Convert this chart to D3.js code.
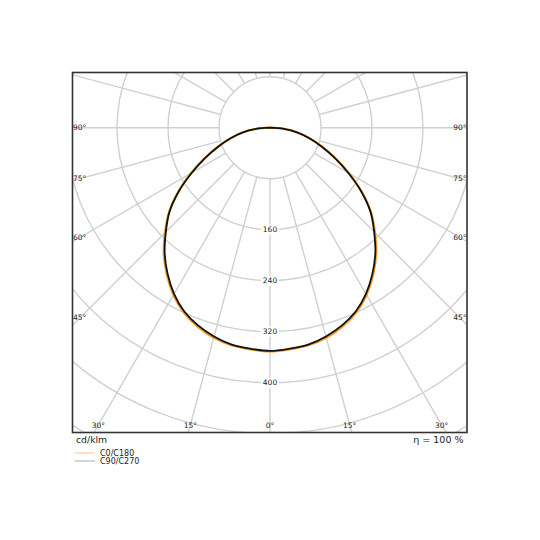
<!DOCTYPE html>
<html>
<head>
<meta charset="utf-8">
<script src="https://cdn.jsdelivr.net/npm/d3@7"></script>
<style>
html,body{margin:0;padding:0;background:#fff;}
svg{display:block;font-family:"DejaVu Sans",sans-serif;}
</style>
</head>
<body>
<svg id="chart" width="540" height="540"></svg>
<script>
// ---- data ----
const gammaAngles = [0,5,10,15,20,25,30,35,40,45,50,55,60,65,70,75,80,85,90];
const c0c180   = [351,349,346.5,341,332,320,303,282,259,233,207,176,143,113,87,64,44,22,0];
const c90c270  = [350,348,345.5,339,330,318,301,280,257,231,206,175,142,112,86,64,44,22,0];
const ringTicks = [80,160,240,320,400,480,560,640];
const ringLabels = [160,240,320,400];
const spokeAngles = d3.range(0,360,15);
const sideAngleLabels = [45,60,75,90];
const bottomAngleLabels = [0,15,30];
const seriesNames = ["C0/C180","C90/C270"];
const unitLabel = "cd/klm";
const effLabel = "η = 100 %";

// ---- layout ----
const box = {x0:72.5, y0:72.5, x1:467, y1:432.5};
const cx = 270, cy = 127.7;
const r = d3.scaleLinear().domain([0,80]).range([0,51]);

const svg = d3.select("#chart");
svg.append("defs").append("clipPath").attr("id","clip")
  .append("rect").attr("x",box.x0).attr("y",box.y0)
  .attr("width",box.x1-box.x0).attr("height",box.y1-box.y0);

const g = svg.append("g").attr("clip-path","url(#clip)");
const grid = "#d0d0d0";

// point for gamma angle (0 = down)
function pt(angDeg, val){
  const a = angDeg*Math.PI/180;
  return [cx + r(val)*Math.sin(a), cy + r(val)*Math.cos(a)];
}

// rings
g.selectAll("circle.ring").data(ringTicks).join("circle")
  .attr("class","ring").attr("cx",cx).attr("cy",cy).attr("r",d=>r(d))
  .attr("fill","none").attr("stroke",grid).attr("stroke-width",1.4);

// spokes
g.selectAll("line.spoke").data(spokeAngles).join("line")
  .attr("class","spoke")
  .attr("x1",d=>pt(d,ringTicks[0])[0]).attr("y1",d=>pt(d,ringTicks[0])[1])
  .attr("x2",d=>pt(d,1000)[0]).attr("y2",d=>pt(d,1000)[1])
  .attr("stroke",grid).attr("stroke-width",1.4);

// ring labels with white backing
const rl = g.selectAll("g.rl").data(ringLabels).join("g").attr("class","rl")
  .attr("transform",d=>`translate(${cx},${cy + r(d)})`);
rl.append("rect").attr("x",-9).attr("y",-5).attr("width",18).attr("height",10).attr("fill","#fff");
rl.append("text").attr("text-anchor","middle").attr("dy","0.35em")
  .attr("font-size",7.5).attr("fill","#222").text(d=>d);

// curves
function curvePts(vals){
  const right = gammaAngles.map((a,i)=>pt(a, vals[i]));
  const left = gammaAngles.map((a,i)=>pt(-a, vals[i])).reverse();
  return left.concat(right.slice(1));
}
const line = d3.line().curve(d3.curveCatmullRom.alpha(0.5));
g.append("path").attr("d",line(curvePts(c0c180)))
  .attr("fill","none").attr("stroke","#f59a23").attr("stroke-width",2.2);
g.append("path").attr("d",line(curvePts(c90c270)))
  .attr("fill","none").attr("stroke","#111").attr("stroke-width",1.8);

// angle labels at sides
sideAngleLabels.forEach(a=>{
  const rad = a*Math.PI/180;
  const dy = (cx - box.x0) / Math.tan(rad) * 0.96;
  const y = cy + dy;
  svg.append("text").attr("x",box.x0+0.5).attr("y",y).attr("dy","0.35em")
    .attr("font-size",7.5).attr("fill","#222").text(a+"°");
  svg.append("text").attr("x",box.x1-0.5).attr("y",y).attr("dy","0.35em")
    .attr("text-anchor","end").attr("font-size",7.5).attr("fill","#222").text(a+"°");
});
bottomAngleLabels.forEach(a=>{
  const rad = a*Math.PI/180;
  const dx = (box.y1 - cy) * Math.tan(rad) * 0.975;
  const xs = a===0 ? [cx] : [cx-dx, cx+dx];
  xs.forEach(x=>{
    svg.append("text").attr("x",x).attr("y",425.7).attr("dy","0.35em")
      .attr("text-anchor","middle").attr("font-size",7.5).attr("fill","#222").text(a+"°");
  });
});

// frame
svg.append("rect").attr("x",box.x0).attr("y",box.y0)
  .attr("width",box.x1-box.x0).attr("height",box.y1-box.y0)
  .attr("fill","none").attr("stroke","#333").attr("stroke-width",1.6);

// bottom texts
svg.append("text").attr("x",76).attr("y",442.5).attr("font-size",9.3).attr("fill","#222").text(unitLabel);
svg.append("text").attr("x",463.5).attr("y",442.5).attr("text-anchor","end").attr("font-size",9.5).attr("fill","#222").text(effLabel);

// legend
const legColors = ["#f8c98a","#a3a9ad"];
seriesNames.forEach((n,i)=>{
  const y = 453 + i*8;
  svg.append("line").attr("x1",75).attr("x2",95).attr("y1",y).attr("y2",y)
    .attr("stroke",legColors[i]).attr("stroke-width",1);
  svg.append("text").attr("x",100).attr("y",y).attr("dy","0.35em")
    .attr("font-size",8).attr("fill","#222").text(n);
});
</script>
</body>
</html>
